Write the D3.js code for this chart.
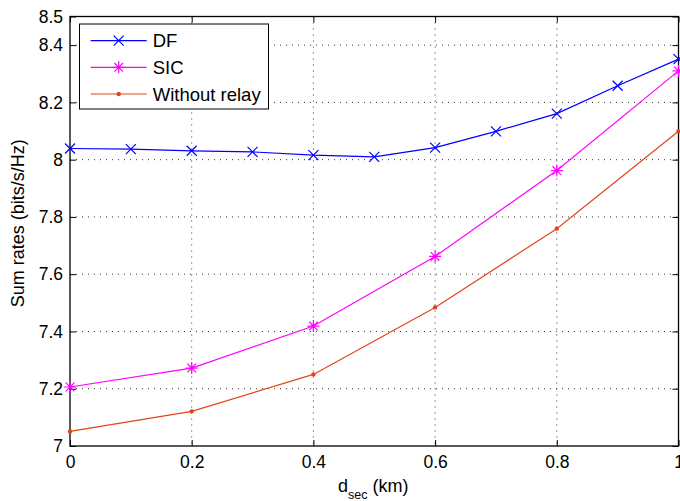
<!DOCTYPE html>
<html><head><meta charset="utf-8">
<script src="https://cdn.jsdelivr.net/npm/d3@7"></script>
<style>body{margin:0;background:#fff}svg{display:block}text{font-family:"Liberation Sans",Arial,sans-serif;fill:#000}</style>
</head><body><svg id="c" width="680" height="501"></svg>
<script>
const xDF = [0,0.1,0.2,0.3,0.4,0.5,0.6,0.7,0.8,0.9,1.0];
const yDF = [8.039,8.037,8.031,8.027,8.016,8.010,8.042,8.099,8.161,8.258,8.351];
const xSIC = [0,0.2,0.4,0.6,0.8,1.0];
const ySIC = [7.206,7.272,7.419,7.662,7.962,8.310];
const xWR = [0,0.2,0.4,0.6,0.8,1.0];
const yWR = [7.051,7.121,7.250,7.484,7.759,8.099];
const xTicks = [0,0.2,0.4,0.6,0.8,1];
const yTicks = [7,7.2,7.4,7.6,7.8,8,8.2,8.4,8.5];
const yTickLabels = ["7","7.2","7.4","7.6","7.8","8","8.2","8.4","8.5"];
const seriesNames = ["DF","SIC","Without relay"];

const svg = d3.select("#c");
const L=70,R=678.5,T=16.5,B=446;
const x = d3.scaleLinear().domain([0,1]).range([L,R]);
const y = d3.scaleLinear().domain([7,8.5]).range([B,T]);
const TF = 17.5;

// grid
const g = svg.append("g");
xTicks.slice(1,-1).forEach(v=>g.append("line").attr("x1",x(v)).attr("x2",x(v)).attr("y1",T).attr("y2",B)
  .attr("stroke","#333").attr("stroke-width",1).attr("stroke-dasharray","1,5"));
yTicks.slice(1,-1).forEach(v=>g.append("line").attr("y1",y(v)).attr("y2",y(v)).attr("x1",L).attr("x2",R)
  .attr("stroke","#333").attr("stroke-width",1).attr("stroke-dasharray","1,5"));

// axes
const fmtY = d=>yTickLabels[yTicks.indexOf(d)];
svg.append("g").attr("transform",`translate(0,${B})`)
  .call(d3.axisBottom(x).tickValues(xTicks).tickFormat(d=>d3.format("")(d)).tickSizeInner(-6).tickSizeOuter(0).tickPadding(10))
  .call(s=>{s.select(".domain").remove();s.selectAll("text").attr("font-size",TF).attr("font-family","Liberation Sans, Arial");});
svg.append("g").attr("transform",`translate(0,${T})`)
  .call(d3.axisTop(x).tickValues(xTicks).tickFormat("").tickSizeInner(-6).tickSizeOuter(0))
  .call(s=>s.select(".domain").remove());
svg.append("g").attr("transform",`translate(${L},0)`)
  .call(d3.axisLeft(y).tickValues(yTicks).tickFormat(fmtY).tickSizeInner(-6).tickSizeOuter(0).tickPadding(7))
  .call(s=>{s.select(".domain").remove();s.selectAll("text").attr("font-size",TF).attr("font-family","Liberation Sans, Arial");});
svg.append("g").attr("transform",`translate(${R},0)`)
  .call(d3.axisRight(y).tickValues(yTicks).tickFormat("").tickSizeInner(-6).tickSizeOuter(0))
  .call(s=>s.select(".domain").remove());
svg.append("rect").attr("x",L).attr("y",T).attr("width",R-L).attr("height",B-T)
  .attr("fill","none").attr("stroke","#000").attr("stroke-width",1.3);

// labels
svg.append("text").attr("x",x(0.5)-1).attr("y",491.5).attr("text-anchor","middle").attr("font-size",18)
  .html('d<tspan font-size="12.5" dy="7">sec</tspan><tspan dy="-7"> (km)</tspan>');
svg.append("text").attr("transform",`translate(24,${(T+B)/2-8}) rotate(-90)`).attr("text-anchor","middle")
  .attr("font-size",18).text("Sum rates (bits/s/Hz)");

const line = d3.line().x(d=>x(d[0])).y(d=>y(d[1]));
const colors = ["#0000ff","#ff00ff","#e5441a"];
const data = [d3.zip(xDF,yDF), d3.zip(xSIC,ySIC), d3.zip(xWR,yWR)];

function marker(sel,i,px,py){
  if(i===0){
    const s=5;
    sel.append("path").attr("d",`M${px-s},${py-s}L${px+s},${py+s}M${px-s},${py+s}L${px+s},${py-s}`)
      .attr("stroke",colors[0]).attr("stroke-width",1.2).attr("fill","none");
  } else if(i===1){
    const s=6, d=s*0.72;
    sel.append("path").attr("d",`M${px-s},${py}L${px+s},${py}M${px},${py-s}L${px},${py+s}M${px-d},${py-d}L${px+d},${py+d}M${px-d},${py+d}L${px+d},${py-d}`)
      .attr("stroke",colors[1]).attr("stroke-width",1.2).attr("fill","none");
  } else {
    sel.append("circle").attr("cx",px).attr("cy",py).attr("r",2.2).attr("fill",colors[2]);
  }
}
data.forEach((d,i)=>{
  svg.append("path").datum(d).attr("d",line).attr("fill","none").attr("stroke",colors[i]).attr("stroke-width",1.2);
  const mg = svg.append("g");
  d.forEach(p=>marker(mg,i,x(p[0]),y(p[1])));
});

// legend
const lg = svg.append("g");
lg.append("rect").attr("x",79.5).attr("y",24).attr("width",189).attr("height",85).attr("fill","#fff").attr("stroke","#000").attr("stroke-width",1);
const ly=[40.7,67.3,94];
seriesNames.forEach((n,i)=>{
  lg.append("line").attr("x1",90.7).attr("x2",146.7).attr("y1",ly[i]).attr("y2",ly[i]).attr("stroke",colors[i]).attr("stroke-width",1.2);
  marker(lg,i,118.7,ly[i]);
  lg.append("text").attr("x",152.7).attr("y",ly[i]+6.5).attr("font-size",18.5).text(n);
});
</script></body></html>
